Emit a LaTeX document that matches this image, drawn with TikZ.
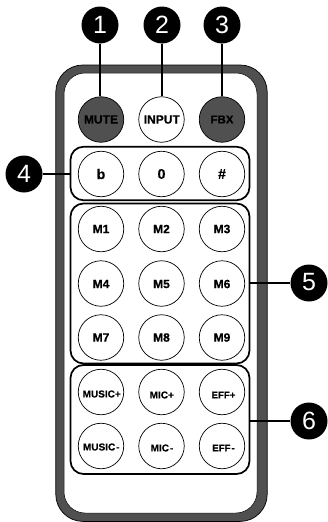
\documentclass[tikz,border=0pt]{standalone}
\usepackage{fontspec}
\setmainfont{Liberation Sans}
\newfontfamily\heavyfont[BoldFeatures={FakeBold=0.6}]{Liberation Sans}
\usetikzlibrary{calc}
\definecolor{bodygray}{HTML}{505050}
\tikzset{
  btn/.style={circle,draw=black,line width=0.7pt,minimum size=45.5pt,inner sep=0pt,fill=white},
  darkbtn/.style={btn,fill=bodygray},
  lab/.style={inner sep=0pt,font=\heavyfont\bfseries\fontsize{#1}{#1}\selectfont,text=black},
  badge/.style={circle,fill=black,minimum size=37pt,inner sep=0pt,text=white},
  digit/.style={inner sep=0pt,text=white,font=\fontsize{25}{25}\selectfont},
  grp/.style={draw=black,line width=1.7pt,rounded corners=13pt,minimum width=179pt,inner sep=0pt,fill=none},
  leader/.style={draw=black,line width=1.4pt}
}
% [style]{name}{x}{y}{text}{size}{dx}{dy}
\newcommand{\btnat}[8][btn]{%
  \node[#1] (#2) at (#3,#4) {};
  \node[lab=#6] (#2t) at ($(#2)+(#7,#8)$) {#5};
}
\newcommand{\badgeat}[4]{%
  \node[badge] (#1) at (#2,#3) {};
  \node[digit] (#1t) at ($(#1)+(0,-0.5)$) {#4};
}
\begin{document}
\begin{tikzpicture}[x=1pt,y=-1pt]
\useasboundingbox (0,0) rectangle (327,522);
\fill[white] (0,0) rectangle (327,522);
% body
\draw[black,line width=0.7pt,fill=bodygray,rounded corners=27pt] (55.8,65) rectangle (267.2,521.4);
\draw[black,line width=0.5pt,fill=white,rounded corners=21pt] (64,73) rectangle (257,513);
% buttons
\btnat[darkbtn]{mute}{101}{119.5}{MUTE}{12}{0}{0}
\btnat{input}{161.5}{119.5}{INPUT}{12}{0.3}{0}
\btnat[darkbtn]{fbx}{222}{119.5}{FBX}{11.5}{0}{0}
\btnat{bb}{101}{174}{b}{14}{0}{0}
\btnat{zero}{161.5}{174}{0}{14}{0}{0}
\btnat{hash}{222}{174}{\#}{14}{0}{0}
\btnat{m1}{101}{229}{M1}{12}{0}{0}
\btnat{m2}{161.5}{229}{M2}{12}{0}{0}
\btnat{m3}{222}{229}{M3}{12}{0}{0}
\btnat{m4}{101}{283.5}{M4}{12}{0}{0.5}
\btnat{m5}{161.5}{283.5}{M5}{12}{0}{0.5}
\btnat{m6}{222}{283.5}{M6}{12}{0}{0.5}
\btnat{m7}{101}{337.5}{M7}{12}{0}{0}
\btnat{m8}{161.5}{337.5}{M8}{12}{0}{0}
\btnat{m9}{222}{337.5}{M9}{12}{0}{0}
\btnat{musicp}{101}{392}{MUSIC+}{10}{0.7}{2}
\btnat{micp}{161.5}{392}{MIC+}{10}{0.3}{3}
\btnat{effp}{222}{392}{EFF+}{9.6}{1.5}{3}
\btnat{musicm}{101}{446}{MUSIC\kern1pt-}{10}{0.3}{1}
\btnat{micm}{161.5}{446}{MIC\kern1pt-}{10}{0.5}{2}
\btnat{effm}{222}{446}{EFF\kern1pt-}{9.6}{1.5}{2}
% groups
\node[grp,minimum height=53.5pt] (g4) at (160,173.5) {};
\node[grp,minimum height=160pt] (g5) at (160,283.5) {};
\node[grp,minimum height=109pt] (g6) at (160,419.5) {};
% badges
\badgeat{b1}{100}{25}{1}
\badgeat{b2}{162}{25}{2}
\badgeat{b3}{222}{25}{3}
\badgeat{b4}{24}{174}{4}
\badgeat{b5}{309}{283}{5}
\badgeat{b6}{309}{421}{6}
% leaders
\draw[leader] (b1.south) -- (b1.south |- mute.north);
\draw[leader] (b2.south) -- (b2.south |- input.north);
\draw[leader] (b3.south) -- (b3.south |- fbx.north);
\draw[leader] (b4.east) -- (b4.east -| g4.west);
\draw[leader] (b5.west) -- (b5.west -| g5.east);
\draw[leader] (b6.west) -- (b6.west -| g6.east);
\end{tikzpicture}
\end{document}
